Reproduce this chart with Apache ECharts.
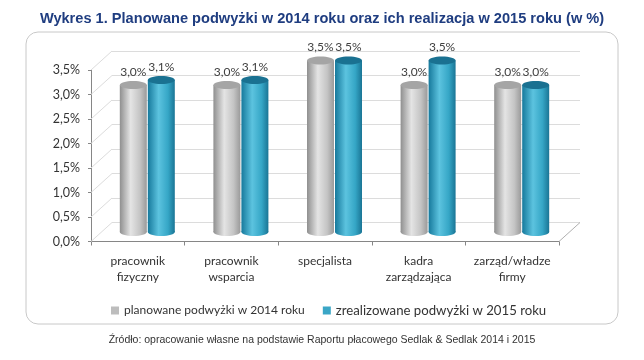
<!DOCTYPE html>
<html><head><meta charset="utf-8">
<script src="https://cdn.jsdelivr.net/npm/echarts@6/dist/echarts.min.js"></script>
<style>html,body{margin:0;padding:0;background:#fff}#c{width:644px;height:360px}</style>
</head><body><div id="c"></div>
<script>
const categories = ['pracownik\nfizyczny', 'pracownik\nwsparcia', 'specjalista', 'kadra\nzarządzająca', 'zarząd/władze\nfirmy'];
const planned2014 = [3.0, 3.0, 3.5, 3.0, 3.0];
const realized2015 = [3.1, 3.1, 3.5, 3.5, 3.0];
const seriesNames = ['planowane podwyżki w 2014 roku', 'zrealizowane podwyżki w 2015 roku'];
const yTicks = [0, 0.5, 1.0, 1.5, 2.0, 2.5, 3.0, 3.5];
const titleText = 'Wykres 1. Planowane podwyżki w 2014 roku oraz ich realizacja w 2015 roku (w %)';
const sourceText = 'Źródło: opracowanie własne na podstawie Raportu płacowego Sedlak & Sedlak 2014 i 2015';

const fmt = v => v.toFixed(1).replace('.', ',') + '%';
const FONT = 'Lato, "Open Sans", sans-serif';
const DX = 21, DY = 19;

function cylinder(offset, sideStops, topColor) {
  return function (params, api) {
    const cat = api.value(0), val = api.value(1);
    const t = api.coord([cat, val]), b = api.coord([cat, 0]);
    const w = 27, rx = w / 2, ry = 4;
    const cx = t[0] + offset;
    const grad = () => new echarts.graphic.LinearGradient(0, 0, 1, 0, sideStops);
    return {
      type: 'group', children: [
        { type: 'ellipse', shape: { cx: cx, cy: b[1], rx: rx, ry: ry }, style: { fill: grad() } },
        { type: 'rect', shape: { x: cx - rx, y: t[1], width: w, height: b[1] - t[1] }, style: { fill: grad() } },
        { type: 'ellipse', shape: { cx: cx, cy: t[1], rx: rx, ry: ry }, style: { fill: topColor } },
        { type: 'text', style: { text: fmt(val), x: cx, y: t[1] - ry - 3, align: 'center', verticalAlign: 'bottom', font: '12px ' + FONT, fill: '#404040' } }
      ]
    };
  };
}

const grayStops = [{ offset: 0, color: '#8f8f8f' }, { offset: 0.4, color: '#e4e4e4' }, { offset: 0.75, color: '#c4c4c4' }, { offset: 1, color: '#9a9a9a' }];
const blueStops = [{ offset: 0, color: '#16799c' }, { offset: 0.4, color: '#5cc3df' }, { offset: 0.75, color: '#35a6c6' }, { offset: 1, color: '#1a7595' }];

const chart = echarts.init(document.getElementById('c'), null, { renderer: 'canvas' });
const hiddenX = { type: 'category', data: categories, show: false, boundaryGap: true };
const hiddenY = { type: 'value', min: 0, max: 3.5, interval: 0.5, show: false };

chart.setOption({
  animation: false,
  title: [
    { text: titleText, left: 'center', top: 6, textStyle: { fontFamily: '"Liberation Sans", Arial, sans-serif', fontWeight: 'bold', fontSize: 14.6, color: '#1f3d80' } },
    { text: sourceText, left: 'center', top: 330, textStyle: { fontFamily: '"Liberation Sans", Arial, sans-serif', fontWeight: 'normal', fontSize: 10.5, color: '#333' } }
  ],
  graphic: [
    { type: 'rect', z: -10, shape: { x: 26, y: 32, width: 592, height: 292, r: 12 }, style: { fill: '#fff', stroke: '#c8c8c8', lineWidth: 1 } }
  ],
  legend: {
    left: 106, top: 299, itemWidth: 8, itemHeight: 8, itemGap: 18, icon: 'rect',
    textStyle: { fontFamily: FONT, fontSize: 12, color: '#333' },
    data: [seriesNames[0], { name: seriesNames[1], textStyle: { fontSize: 13.2 } }]
  },
  grid: [
    { left: 91, right: 85, top: 70, bottom: 118.5 },
    { left: 91 + DX, right: 85 - DX, top: 70 - DY, bottom: 118.5 + DY },
    { left: 91 + 10, right: 85 - 10, top: 70 - 9.5, bottom: 118.5 + 9.5 }
  ],
  xAxis: [
    { gridIndex: 0, type: 'category', data: categories, boundaryGap: true,
      axisLine: { lineStyle: { color: '#868686' } },
      axisTick: { show: true, length: 4, lineStyle: { color: '#868686' } },
      axisLabel: { margin: 12, fontFamily: FONT, fontSize: 12, color: '#333', lineHeight: 16, interval: 0 } },
    Object.assign({ gridIndex: 1 }, hiddenX),
    Object.assign({ gridIndex: 2 }, hiddenX)
  ],
  yAxis: [
    { gridIndex: 0, type: 'value', min: 0, max: 3.5, interval: 0.5,
      axisLine: { show: true, lineStyle: { color: '#868686' } },
      axisTick: { show: true, length: 3, lineStyle: { color: '#868686' } },
      splitLine: { show: false },
      axisLabel: { margin: 11, formatter: v => fmt(v), fontFamily: FONT, fontSize: 12.5, color: '#333' } },
    { gridIndex: 1, type: 'value', min: 0, max: 3.5, interval: 0.5,
      axisLine: { show: false }, axisTick: { show: false }, axisLabel: { show: false },
      splitLine: { show: true, lineStyle: { color: '#dcdcdc' } } },
    Object.assign({ gridIndex: 2 }, hiddenY)
  ],
  series: [
    { name: 'walls', type: 'custom', xAxisIndex: 0, yAxisIndex: 0, silent: true, z: 1,
      data: yTicks.map(v => [0, v]),
      renderItem: function (params, api) {
        const cs = params.coordSys;
        const y = api.coord([0, api.value(1)])[1];
        const children = [
          { type: 'line', shape: { x1: cs.x, y1: y, x2: cs.x + DX, y2: y - DY }, style: { stroke: '#dcdcdc', lineWidth: 1 } }
        ];
        if (api.value(1) === 0) {
          children.push({ type: 'line', shape: { x1: cs.x + cs.width, y1: y, x2: cs.x + cs.width + DX, y2: y - DY }, style: { stroke: '#b0b0b0', lineWidth: 1 } });
        }
        return { type: 'group', children: children };
      } },
    { name: seriesNames[0], type: 'custom', xAxisIndex: 2, yAxisIndex: 2, z: 3,
      itemStyle: { color: '#bdbdbd' },
      data: planned2014.map((v, i) => [i, v]),
      renderItem: cylinder(-14.5, grayStops, '#a5a5a5') },
    { name: seriesNames[1], type: 'custom', xAxisIndex: 2, yAxisIndex: 2, z: 3,
      itemStyle: { color: '#3aa6c6' },
      data: realized2015.map((v, i) => [i, v]),
      renderItem: cylinder(13.5, blueStops, '#1a7191') }
  ]
});
</script></body></html>
